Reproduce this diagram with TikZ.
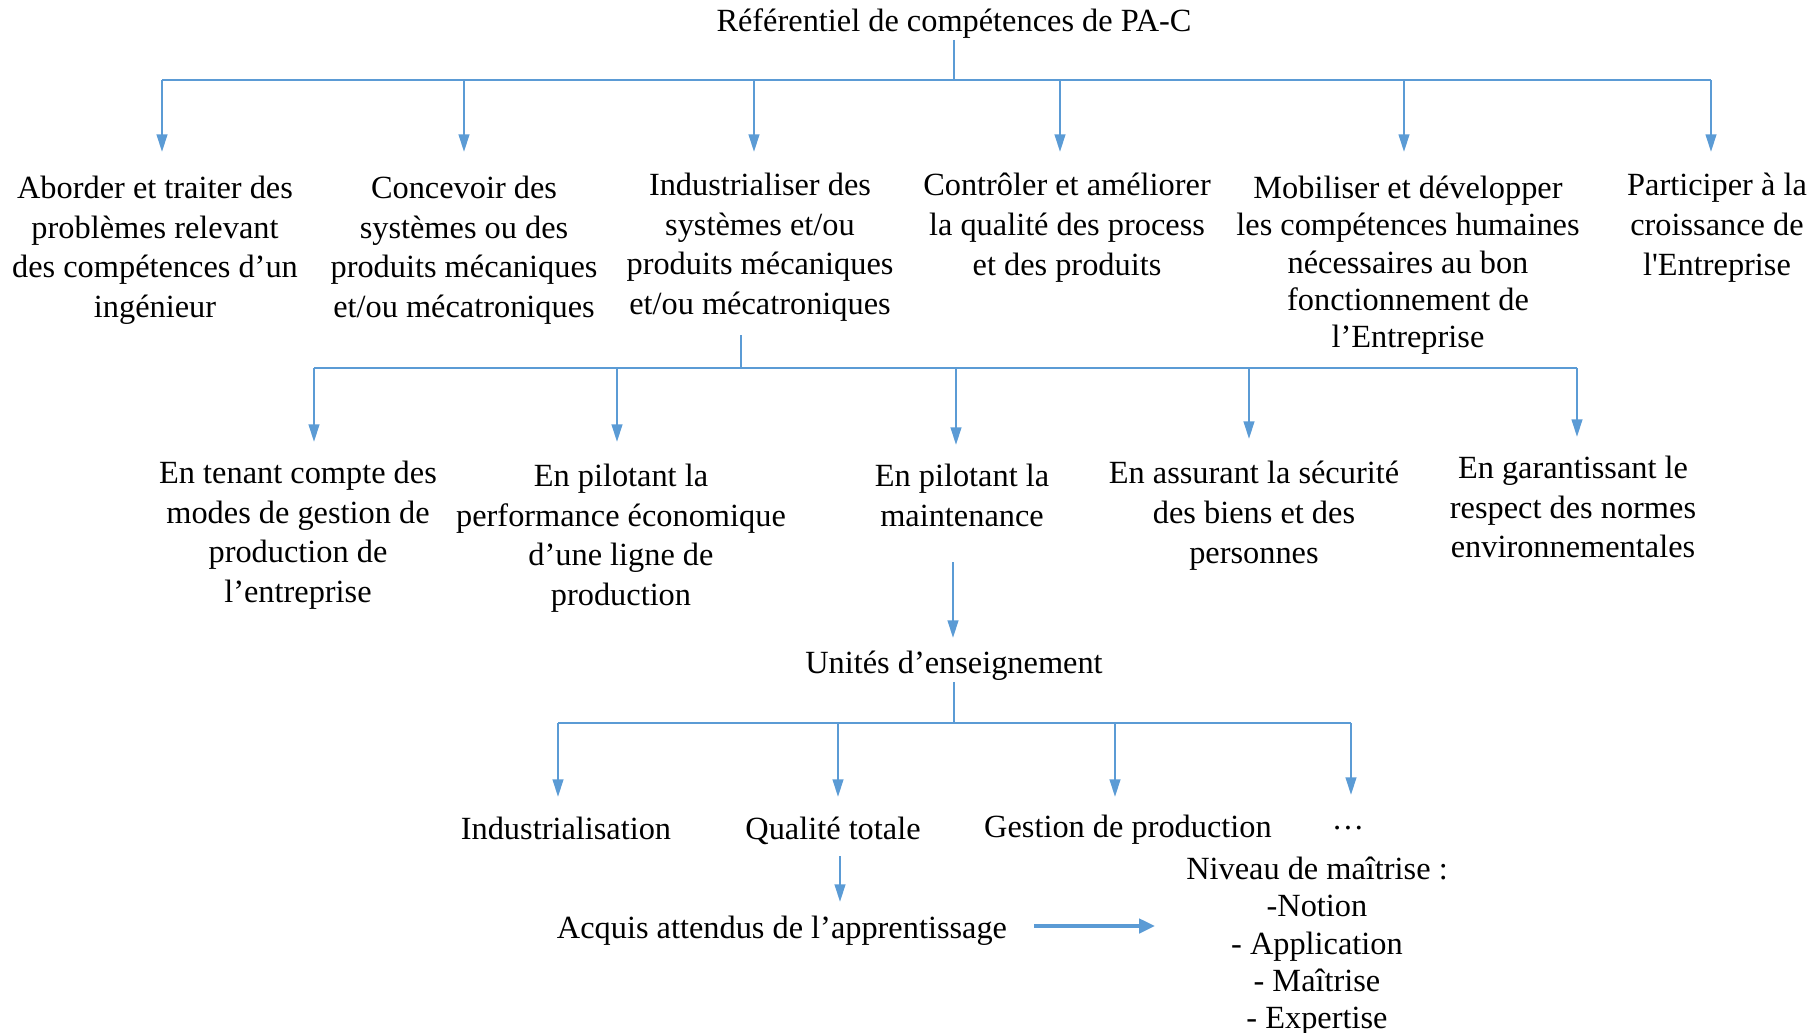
\documentclass[tikz,border=0pt]{standalone}
\usepackage{fontspec}
\setmainfont{Liberation Serif}
\usetikzlibrary{arrows.meta}
\definecolor{lienbleu}{HTML}{5B9BD5}

\begin{document}
\begin{tikzpicture}[x=0.01cm,y=-0.01cm,line width=0.6pt,
  txt/.style={align=center,inner sep=0pt,font=\fontsize{9.2}{11.3}\selectfont},
  serre/.style={font=\fontsize{9.2}{10.6}\selectfont},
  fil/.style={draw=lienbleu,line width=0.35pt},
  bus/.style={draw=lienbleu,line width=0.65pt},
  fleche/.style={draw=lienbleu,line width=0.65pt,-{Triangle[length=5pt,width=3pt]}},
  grosse/.style={draw=lienbleu,line width=1.1pt,-{Triangle[length=4.5pt,width=4pt]}}]
  \useasboundingbox (0,0) rectangle (1811,1033);

  % textes
  \node[txt] (ref) at (954,24) {Référentiel de compétences de PA-C};

  \node[txt,anchor=north] (c1) at (155,175) {Aborder et traiter des\\problèmes relevant\\des compétences d’un\\ingénieur};
  \node[txt,anchor=north] (c2) at (464,175) {Concevoir des\\systèmes ou des\\produits mécaniques\\et/ou mécatroniques};
  \node[txt,anchor=north] (c3) at (760,172) {Industrialiser des\\systèmes et/ou\\produits mécaniques\\et/ou mécatroniques};
  \node[txt,anchor=north] (c4) at (1067,172) {Contrôler et améliorer\\la qualité des process\\et des produits};
  \node[txt,serre,anchor=north] (c5) at (1408,175) {Mobiliser et développer\\les compétences humaines\\nécessaires au bon\\fonctionnement de\\l’Entreprise};
  \node[txt,anchor=north] (c6) at (1717,172) {Participer à la\\croissance de\\l\textquotesingle Entreprise};

  \node[txt,anchor=north] (s1) at (298,460) {En tenant compte des\\modes de gestion de\\production de\\l’entreprise};
  \node[txt,anchor=north] (s2) at (621,463) {En pilotant la\\performance économique\\d’une ligne de\\production};
  \node[txt,anchor=north] (s3) at (962,463) {En pilotant la\\maintenance};
  \node[txt,anchor=north] (s4) at (1254,460) {En assurant la sécurité\\des biens et des\\personnes};
  \node[txt,anchor=north] (s5) at (1573,455) {En garantissant le\\respect des normes\\environnementales};

  \node[txt] (ue) at (954,666) {Unités d’enseignement};
  \node[txt] (u1) at (566,828) {Industrialisation};
  \node[txt] (u2) at (833,831) {Qualité totale};
  \node[txt] (u3) at (1128,830) {Gestion de production};
  \node[txt] (u4) at (1348,828) {…};
  \node[txt] (aaa) at (782,931) {Acquis attendus de l’apprentissage};
  \node[txt,serre,anchor=north] (niv) at (1317,856) {Niveau de maîtrise :\\-Notion\\- Application\\- Maîtrise\\- Expertise};

  % premier niveau
  \coordinate (b0) at (954,80);
  \coordinate (b1w) at (162,80);
  \coordinate (b1e) at (1711,80);
  \coordinate (h1) at (162,152);
  \coordinate (h2) at (464,152);
  \coordinate (h3) at (754,152);
  \coordinate (h4) at (1060,152);
  \coordinate (h5) at (1404,152);
  \coordinate (h6) at (1711,152);
  \draw[fil] (ref.south) -- (b0);
  \draw[bus] (b1w) -- (b1e);
  \draw[fleche] (h1 |- b1w) -- (h1);
  \draw[fleche] (h2 |- b1w) -- (h2);
  \draw[fleche] (h3 |- b1w) -- (h3);
  \draw[fleche] (h4 |- b1w) -- (h4);
  \draw[fleche] (h5 |- b1w) -- (h5);
  \draw[fleche] (h6 |- b1w) -- (h6);

  % second niveau
  \coordinate (b2) at (741,335);
  \coordinate (b2w) at (314,368);
  \coordinate (b2e) at (1577,368);
  \coordinate (k1) at (314,442);
  \coordinate (k2) at (617,442);
  \coordinate (k3) at (956,445);
  \coordinate (k4) at (1249,439);
  \coordinate (k5) at (1577,437);
  \draw[fil] (b2) -- (b2 |- b2w);
  \draw[bus] (b2w) -- (b2e);
  \draw[fleche] (k1 |- b2w) -- (k1);
  \draw[fleche] (k2 |- b2w) -- (k2);
  \draw[fleche] (k3 |- b2w) -- (k3);
  \draw[fleche] (k4 |- b2w) -- (k4);
  \draw[fleche] (k5 |- b2w) -- (k5);

  % unites
  \coordinate (m0) at (953,562);
  \coordinate (m1) at (953,638);
  \draw[fleche] (m0) -- (m1);
  \coordinate (b3w) at (558,723);
  \coordinate (b3e) at (1351,723);
  \coordinate (u1h) at (558,797);
  \coordinate (u2h) at (838,797);
  \coordinate (u3h) at (1115,797);
  \coordinate (u4h) at (1351,795);
  \draw[fil] (ue.south) -- (ue.south |- b3w);
  \draw[bus] (b3w) -- (b3e);
  \draw[fleche] (u1h |- b3w) -- (u1h);
  \draw[fleche] (u2h |- b3w) -- (u2h);
  \draw[fleche] (u3h |- b3w) -- (u3h);
  \draw[fleche] (u4h |- b3w) -- (u4h);

  % acquis
  \coordinate (q0) at (840,856);
  \coordinate (q1) at (840,902);
  \coordinate (n0) at (1034,926);
  \coordinate (n1) at (1155,926);
  \draw[fleche] (q0) -- (q1);
  \draw[grosse] (n0) -- (n1);
\end{tikzpicture}
\end{document}
